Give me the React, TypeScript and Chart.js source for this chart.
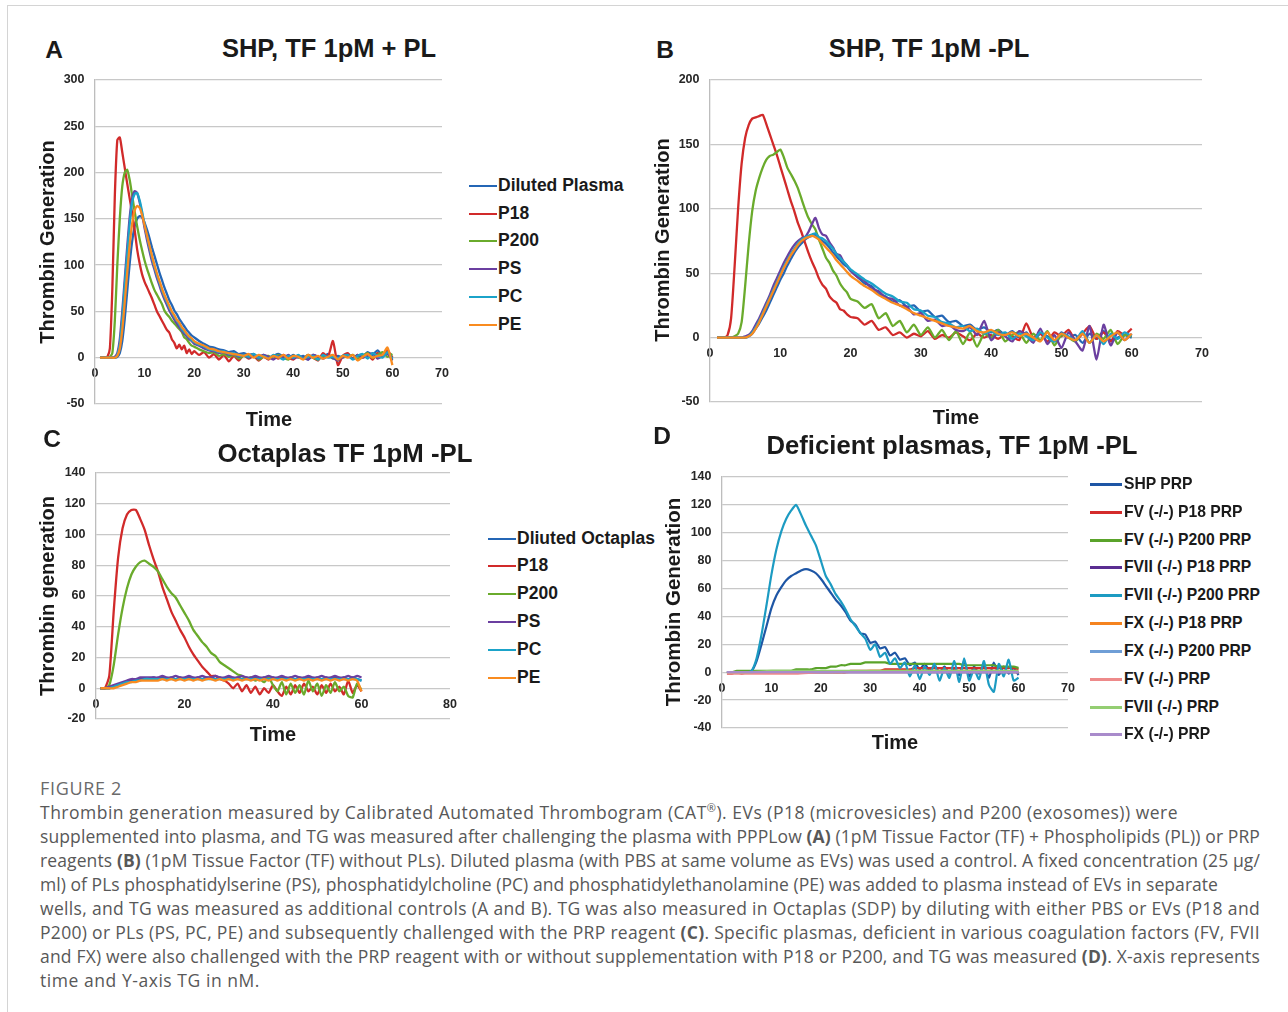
import React, { useEffect, useLayoutEffect, useRef } from "react";
import { Chart, registerables } from "chart.js";
Chart.register(...registerables);

// ---------- time axes ----------
const T_AB = [1,1.5,2,2.5,3,3.5,4,4.5,5,5.5,6,6.5,7,7.5,8,8.5,9,9.5,10,10.5,11,11.5,12,12.5,13,13.5,14,14.5,15,15.5,16,16.5,17,17.5,18,18.5,19,19.5,20,
  21,22,23,24,25,26,27,28,29,30,31,32,33,34,35,36,37,38,39,40,41,42,43,44,45,46,47,48,49,50,51,52,53,54,55,56,57,58,59,60];
const T_CD = [1,2,3,4,5,6,7,8,9,10,11,12,13,14,15,16,17,18,19,20,21,22,23,24,25,26,27,28,29,30,
  31,32,33,34,35,36,37,38,39,40,41,42,43,44,45,46,47,48,49,50,51,52,53,54,55,56,57,58,59,60];
const T_FLAT = [1,5,10,15,20,25,30,35,40,45,50,55,60];

// ---------- Panel A: SHP, TF 1pM + PL ----------
const A_LABELS = ["Diluted Plasma", "P18", "P200", "PS", "PC", "PE"];
const A_DILUTED = [0,0,0,0,0,0,0,1,5,18, 42,72,102,126,142,150,153,152,146,138, 129,119,110,101,92,84,76,69,62,57, 51,47,42,38,34,30,27,24,22,
  18,15,12,11,9,8,6,7,4,5, 3,4,1,3,0,2,4,1,-1,3, 0,2,-2,3,1,0,4,-1,2,0, 3,-1,2,1,6,3,8,2,5,-3];
const A_P18 = [0,0,0,1,10,75,175,235,238,222, 205,188,172,156,138,117,102,90,82,76, 70,64,57,50,45,40,35,30,27,20, 16,10,14,9,13,5,9,4,7,
  3,6,0,4,-2,3,-4,2,-3,3, -1,2,-3,1,-2,2,-1,3,0,-2, 2,-1,3,0,-3,5,1,18,-8,2, 5,-1,3,0,4,-2,5,1,8,0];
const A_P200 = [0,0,0,0,1,5,40,100,150,185, 200,203,192,175,158,142,128,116,105,96, 88,80,73,68,63,58,51,47,44,40, 37,34,31,28,22,20,16,13,12,
  9,7,5,6,2,4,1,3,-1,2, 0,3,-2,1,2,-1,3,0,-2,2, 1,-1,3,0,-2,2,1,0,-3,2, 1,3,-1,2,5,0,3,6,1,4];
const A_PS = [0,0,0,0,0,0,1,5,20,50, 85,120,152,172,180,178,168,155,140,127, 115,104,95,86,78,70,63,57,51,46, 41,37,33,29,26,23,20,18,15,
  13,10,8,7,5,6,3,4,1,3, 0,2,-1,3,1,-2,2,0,3,-1, 2,0,-2,3,1,-1,2,0,-3,1, 2,-1,3,0,2,5,-1,2,4,-2];
const A_PC = [0,0,0,0,0,0,0,3,15,42, 78,112,145,168,177,178,170,158,144,131, 119,108,98,89,81,73,66,60,54,49, 44,40,36,31,28,25,22,19,17,
  14,12,9,8,6,7,4,5,2,3, 1,4,0,2,-1,3,1,-2,2,0, 3,-1,1,2,-2,3,0,1,-1,2, 3,-2,2,4,-1,5,2,0,6,-1];
const A_PE = [0,0,0,0,0,0,0,2,10,30, 60,92,122,145,159,164,162,154,143,132, 121,110,100,91,83,75,68,62,56,50, 46,41,38,33,30,26,23,21,18,
  15,13,10,9,7,6,5,4,3,2, 4,0,3,1,-1,2,0,3,-1,2, 1,-2,3,0,2,-1,1,3,-2,2, 0,3,-3,1,4,0,2,3,11,-8];

// ---------- Panel B: SHP, TF 1pM -PL ----------
const B_LABELS = ["Diluted Plasma", "P18", "P200", "PS", "PC", "PE"];
const B_DILUTED = [0,0,0,0,0,0,0,0,0,1, 3,7,11,16,21,27,33,39,45,50, 56,61,66,70,73,76,78,79,80,77, 75,73,70,66,63,60,57,55,52,
  47,42,40,34,32,28,29,24,25,20, 21,16,17,12,13,9,10,6,8,4, 6,2,5,0,4,-2,3,1,-3,4, 0,2,-4,3,-1,5,-2,0,2,0];
const B_P18 = [0,0,0,2,15,55,100,135,155,165, 170,171,172,173,166,158,150,142,133,124, 115,106,98,89,82,74,66,59,53,46, 41,38,32,29,27,22,21,18,16,
  15,10,13,6,8,2,4,0,3,1, 5,-1,2,0,4,1,-2,3,0,2, -1,3,1,-2,11,0,3,-3,4,1, 6,-2,3,9,-1,4,-3,5,2,7];
const B_P200 = [0,0,0,0,0,1,3,12,40,72, 98,114,124,132,138,141,142,144,146,140, 132,127,122,116,108,100,93,88,84,76, 69,62,58,52,48,42,38,35,30,
  28,23,26,15,19,9,13,4,10,2, 8,0,6,-2,5,-5,4,-7,3,0, 6,-3,2,4,-4,3,-2,5,-6,2, 0,-3,4,-4,3,-1,6,-5,2,1];
const B_PS = [0,0,0,0,0,0,0,0,1,2, 5,10,15,21,27,33,40,46,52,58, 63,68,72,75,77,78,82,88,93,85, 80,79,74,70,65,64,59,56,52,
  47,44,38,36,31,30,25,24,18,19, 13,14,9,10,6,5,8,2,13,-2, 4,1,-3,5,2,-4,7,-5,2,-8, 4,-3,-10,9,-17,10,-6,4,-2,3];
const B_PC = [0,0,0,0,0,0,0,0,0,1, 4,8,13,19,25,31,37,43,49,55, 60,65,69,73,76,78,79,80,81,78, 77,75,72,69,65,62,59,56,53,
  49,45,42,38,34,32,28,27,22,21, 17,16,12,11,8,9,5,7,3,5, 2,4,-1,3,1,-2,4,0,-3,3, 1,-2,5,-4,2,-5,3,-1,4,1];
const B_PE = [0,0,0,0,0,0,0,0,0,1, 3,7,12,18,24,30,36,42,48,54, 59,64,68,72,75,77,78,79,78,76, 73,70,67,64,60,57,54,51,48,
  44,40,37,33,30,27,25,22,19,17, 15,13,11,9,8,7,9,5,4,6, 3,2,4,1,3,0,-3,4,-2,3, 0,-2,3,-4,2,-3,1,4,-2,3];

// ---------- Panel C: Octaplas TF 1pM -PL ----------
const C_LABELS = ["Dliuted Octaplas", "P18", "P200", "PS", "PC", "PE"];
const C_DILUTED = [0,0,0,1,2,3,4,5,5,6, 6,6,7,6,7,6,7,6,7,6, 7,6,7,6,7,7,6,7,6,7, 6,7,6,7,6,7,6,7,6,7, 6,7,6,7,6,7,6,7,6,7, 6,7,6,7,6,7,6,7,6,5];
const C_P18 = [0,0,8,50,85,104,113,116,116,110, 103,93,84,76,66,58,50,44,38,33, 27,22,18,14,11,8,8,6,5,3,
  0,3,-2,2,-3,1,-4,0,-3,2, -2,-5,1,-4,2,-3,3,-2,1,-4, 2,-3,3,-2,1,-4,5,-3,2,-2];
const C_P200 = [0,0,2,15,35,52,65,74,79,82, 83,81,79,76,71,66,62,59,54,49, 44,38,34,30,27,23,21,17,15,13,
  11,9,8,6,7,5,6,4,7,2, -2,4,-4,3,-3,2,-4,5,-2,3, -5,2,-3,4,-2,1,-5,-6,3,-1];
const C_PS = [0,0,1,2,3,4,5,6,6,7, 7,7,7,7,8,7,7,8,7,7, 8,7,7,8,7,7,8,7,7,8, 7,7,8,7,7,8,7,7,8,7, 7,8,7,7,8,7,7,8,7,7, 8,7,7,8,7,7,8,7,8,7];
const C_PC = [0,0,0,1,2,3,4,4,5,5, 6,6,6,6,6,6,6,6,6,6, 6,6,6,6,6,6,6,6,6,6, 6,6,6,6,6,6,6,6,6,6, 6,6,6,6,6,6,6,6,6,6, 6,6,6,6,6,6,6,6,6,5];
const C_PE = [0,0,0,0,1,2,3,4,4,5, 5,5,5,5,6,5,6,5,6,5, 6,5,6,5,6,6,5,6,5,6, 5,6,5,6,5,6,5,6,5,6, 5,6,5,6,5,6,5,6,5,6, 5,6,5,6,5,6,5,6,5,-2];

// ---------- Panel D: Deficient plasmas, TF 1pM -PL ----------
const D_LABELS = ["SHP PRP", "FV (-/-) P18 PRP", "FV (-/-) P200 PRP", "FVII (-/-) P18 PRP", "FVII (-/-) P200 PRP",
  "FX (-/-) P18 PRP", "FX (-/-) P200 PRP", "FV (-/-) PRP", "FVII (-/-) PRP", "FX (-/-) PRP"];
const D_SHP = [0,0,0,0,0,1,8,20,33,46, 55,61,66,69,71,73,74,73,71,67, 62,57,52,48,43,37,34,28,27,21,
  22,17,18,12,14,9,10,5,7,2, 6,1,5,0,4,-1,3,-2,8,-3, 4,-1,5,-4,7,-2,4,-1,3,-2];
const D_FV_P18 = [-1,-1,0,-1,0,0,0,0,0,0, 0,0,0,0,0,0,0,0,0,0, 0,0,0,0,0,1,1,1,1,1, 1,1,2,2,2,2,2,2,3,3, 3,3,3,3,3,3,3,3,3,3, 3,3,3,3,3,3,3,3,3,2];
const D_FV_P200 = [0,0,1,1,1,1,1,1,1,1, 1,1,1,1,2,2,2,2,3,3, 3,4,4,5,5,6,6,6,7,7, 7,7,7,6,6,6,6,6,6,6, 6,6,6,6,6,6,6,6,5,5, 5,5,5,5,5,4,4,4,4,3];
const D_FVII_P18 = [0,0,0,0,0,0,0,0,0,0,0,0,0];
const D_FVII_P200 = [0,0,0,0,0,1,10,27,48,70, 88,101,110,116,120,113,105,98,91,80, 69,63,56,51,45,38,33,28,24,16,
  20,11,14,6,10,3,7,-3,5,-5, 4,-2,6,-6,3,-4,8,-7,10,-6, 2,-5,8,-9,-14,6,-3,9,-6,-4];
const D_FX_P18 = [0,0,0,0,0,0,1,1,1,1,1,1,0];
const D_FX_P200 = [0,0,0,0,0,0,0,0,0,0,0,0,0];
const D_FV = [-1,-1,-1,-1,0,0,0,0,0,0,0,0,0];
const D_FVII = [0,0,1,1,1,1,1,1,1,1,1,1,1];
const D_FX = [0,0,0,0,0,0,0,0,0,0,0,0,0];

const COLS6 = ["#2466B5", "#D12A2A", "#6AAB2C", "#6B3FA0", "#1BA3C9", "#F98B1F"];
const COLS_D = ["#1E56A5", "#D42B2B", "#5AA32A", "#5A2D91", "#1C9BC2", "#F5831F", "#6F9ED6", "#EE8A8A", "#94CE72", "#A98BCB"];

const FONT = "'Liberation Sans', Arial, Helvetica, sans-serif";

type S = { label: string; color: string; t: number[]; v: number[]; w?: number };

function Panel(props: { left: number; top: number; w: number; h: number; series: S[]; xMax: number; xStep: number; yMin: number; yMax: number; yStep: number }) {
  const ref = useRef<HTMLCanvasElement>(null);
  useEffect(() => {
    const n = props.series.length;
    const chart = new Chart(ref.current as HTMLCanvasElement, {
      type: "line",
      data: {
        datasets: props.series.map((s, i) => ({
          label: s.label,
          data: s.t.map((x, k) => ({ x, y: s.v[k] })),
          borderColor: s.color,
          backgroundColor: s.color,
          borderWidth: s.w ?? 2.3,
          pointRadius: 0,
          tension: 0.2,
          fill: false,
          order: n - i,
        })),
      },
      options: {
        animation: false,
        responsive: false,
        maintainAspectRatio: false,
        devicePixelRatio: 1,
        layout: { padding: { left: 0, right: 10, top: 10, bottom: 10 }, autoPadding: false },
        plugins: { legend: { display: false }, tooltip: { enabled: false }, title: { display: false } },
        scales: {
          x: {
            type: "linear",
            min: 0,
            max: props.xMax,
            position: { y: 0 } as any,
            grid: { display: false, drawTicks: false },
            border: { display: false },
            ticks: { stepSize: props.xStep, padding: 8.5, color: "#262626", maxRotation: 0, autoSkip: false, font: { family: FONT, size: 12.5, weight: "bold" } },
            afterFit: (sc: any) => { sc.paddingLeft = 0; sc.paddingRight = 0; sc.paddingTop = 0; sc.paddingBottom = 0; },
          },
          y: {
            type: "linear",
            min: props.yMin,
            max: props.yMax,
            grid: { color: "#c8c8c8", lineWidth: 1.3, drawTicks: false },
            border: { display: true, color: "#bdbdbd", width: 1.3 },
            ticks: { stepSize: props.yStep, padding: 10.5, color: "#262626", font: { family: FONT, size: 12.5, weight: "bold" } },
            afterFit: (sc: any) => { sc.width = 40; sc.paddingTop = 0; sc.paddingBottom = 0; sc.paddingLeft = 0; sc.paddingRight = 0; },
          },
        },
      },
    });
    return () => chart.destroy();
  }, []);
  return <canvas ref={ref} width={props.w} height={props.h} style={{ position: "absolute", left: props.left, top: props.top, width: props.w, height: props.h }} />;
}

function Txt(p: { x: number; y: number; size: number; children: React.ReactNode; rot?: boolean; left?: boolean }) {
  const tr = p.left ? "translate(0,-50%)" : "translate(-50%,-50%)" + (p.rot ? " rotate(-90deg)" : "");
  return (
    <div style={{ position: "absolute", left: p.x, top: p.y, transform: tr, whiteSpace: "nowrap", fontFamily: FONT, fontWeight: 700, fontSize: p.size, lineHeight: 1, color: "#1a1a1a" }}>
      {p.children}
    </div>
  );
}

function Legend(p: { labels: string[]; colors: string[]; ys: number[]; x1: number; x2: number; tx: number; size: number; lw: number }) {
  return (
    <>
      {p.labels.map((l, i) => (
        <React.Fragment key={l}>
          <div style={{ position: "absolute", left: p.x1, top: p.ys[i] - p.lw / 2, width: p.x2 - p.x1, height: p.lw, background: p.colors[i] }} />
          <Txt x={p.tx} y={p.ys[i]} size={p.size} left>{l}</Txt>
        </React.Fragment>
      ))}
    </>
  );
}

const CAP: React.CSSProperties = { position: "absolute", left: 40, whiteSpace: "nowrap", fontFamily: "'Open Sans', sans-serif", fontSize: 17.5, lineHeight: "24px", color: "#585858" };

function FitLine(p: { top: number; right: number; extra?: React.CSSProperties; children: React.ReactNode }) {
  const ref = useRef<HTMLDivElement>(null);
  useLayoutEffect(() => {
    const el = ref.current as HTMLDivElement;
    el.style.letterSpacing = "0px";
    const w = el.getBoundingClientRect().width;
    const n = (el.textContent || "").length;
    if (n > 1) el.style.letterSpacing = (p.right - 40 - w) / n + "px";
  }, []);
  return <div ref={ref} style={{ ...CAP, ...p.extra, top: p.top }}>{p.children}</div>;
}

const CAPTION_RIGHTS = [1178, 1260, 1260, 1218, 1260, 1260, 1260, 260];

export default function App() {
  const sA: S[] = [A_DILUTED, A_P18, A_P200, A_PS, A_PC, A_PE].map((v, i) => ({ label: A_LABELS[i], color: COLS6[i], t: T_AB, v }));
  const sB: S[] = [B_DILUTED, B_P18, B_P200, B_PS, B_PC, B_PE].map((v, i) => ({ label: B_LABELS[i], color: COLS6[i], t: T_AB, v }));
  const sC: S[] = [C_DILUTED, C_P18, C_P200, C_PS, C_PC, C_PE].map((v, i) => ({ label: C_LABELS[i], color: COLS6[i], t: T_CD, v }));
  const dVals = [D_SHP, D_FV_P18, D_FV_P200, D_FVII_P18, D_FVII_P200, D_FX_P18, D_FX_P200, D_FV, D_FVII, D_FX];
  const sD: S[] = dVals.map((v, i) => ({ label: D_LABELS[i], color: COLS_D[i], t: v.length === T_CD.length ? T_CD : T_FLAT, v, w: 2.2 }));

  const lines: React.ReactNode[] = [
    <>Thrombin generation measured by Calibrated Automated Thrombogram (CAT<sup style={{ fontSize: 11, lineHeight: 0 }}>®</sup>). EVs (P18 (microvesicles) and P200 (exosomes)) were</>,
    <>supplemented into plasma, and TG was measured after challenging the plasma with PPPLow <b>(A)</b> (1pM Tissue Factor (TF) + Phospholipids (PL)) or PRP</>,
    <>reagents <b>(B)</b> (1pM Tissue Factor (TF) without PLs). Diluted plasma (with PBS at same volume as EVs) was used a control. A fixed concentration (25 µg/</>,
    <>ml) of PLs phosphatidylserine (PS), phosphatidylcholine (PC) and phosphatidylethanolamine (PE) was added to plasma instead of EVs in separate</>,
    <>wells, and TG was measured as additional controls (A and B). TG was also measured in Octaplas (SDP) by diluting with either PBS or EVs (P18 and</>,
    <>P200) or PLs (PS, PC, PE) and subsequently challenged with the PRP reagent <b>(C)</b>. Specific plasmas, deficient in various coagulation factors (FV, FVII</>,
    <>and FX) were also challenged with the PRP reagent with or without supplementation with P18 or P200, and TG was measured <b>(D)</b>. X-axis represents</>,
    <>time and Y-axis TG in nM.</>,
  ];

  return (
    <div style={{ position: "absolute", left: 0, top: 0, width: 1288, height: 1012, overflow: "hidden", background: "#fff" }}>
      <div style={{ position: "absolute", left: 7, top: 5, width: 1281, height: 1007, borderTop: "1.5px solid #d4d4d4", borderLeft: "1.5px solid #d4d4d4", boxSizing: "border-box" }} />

      <Panel left={55} top={70} w={397} h={344} series={sA} xMax={70} xStep={10} yMin={-50} yMax={300} yStep={50} />
      <Panel left={670} top={70} w={542} h={342} series={sB} xMax={70} xStep={10} yMin={-50} yMax={200} yStep={50} />
      <Panel left={56} top={463} w={404} h={266} series={sC} xMax={80} xStep={20} yMin={-20} yMax={140} yStep={20} />
      <Panel left={682} top={467} w={396} h={271} series={sD} xMax={70} xStep={10} yMin={-40} yMax={140} yStep={20} />

      <Txt x={54} y={50} size={24.5}>A</Txt>
      <Txt x={329} y={49} size={25.5}>SHP, TF 1pM + PL</Txt>
      <Txt x={47} y={242} size={20} rot>Thrombin Generation</Txt>
      <Txt x={269} y={419} size={20}>Time</Txt>
      <Legend labels={A_LABELS} colors={COLS6} ys={[186, 214, 241, 269, 297, 325]} x1={469} x2={497} tx={498} size={17.5} lw={2.5} />

      <Txt x={665} y={50} size={24.5}>B</Txt>
      <Txt x={929} y={49} size={25.5}>SHP, TF 1pM -PL</Txt>
      <Txt x={662} y={240} size={20} rot>Thrombin Generation</Txt>
      <Txt x={956} y={417} size={20}>Time</Txt>

      <Txt x={52} y={439} size={24.5}>C</Txt>
      <Txt x={345} y={454} size={25.8}>Octaplas TF 1pM -PL</Txt>
      <Txt x={47} y={596} size={20} rot>Thrombin generation</Txt>
      <Txt x={273} y={734} size={20}>Time</Txt>
      <Legend labels={C_LABELS} colors={COLS6} ys={[539, 566, 594, 622, 650, 678]} x1={488} x2={516} tx={517} size={17.5} lw={2.5} />

      <Txt x={662} y={436} size={24.5}>D</Txt>
      <Txt x={952} y={446} size={25.7}>Deficient plasmas, TF 1pM -PL</Txt>
      <Txt x={673} y={602} size={20.5} rot>Thrombin Generation</Txt>
      <Txt x={895} y={742} size={20}>Time</Txt>
      <Legend labels={D_LABELS} colors={COLS_D} ys={[484, 512, 540, 567, 595, 623, 651, 679, 707, 734]} x1={1090} x2={1122} tx={1124} size={15.7} lw={3} />

      <FitLine top={776} right={122} extra={{ fontSize: 18, color: "#6a6a6a" }}>FIGURE 2</FitLine>
      {lines.map((l, i) => (
        <FitLine key={i} top={800 + i * 24} right={CAPTION_RIGHTS[i]}>{l}</FitLine>
      ))}
    </div>
  );
}
